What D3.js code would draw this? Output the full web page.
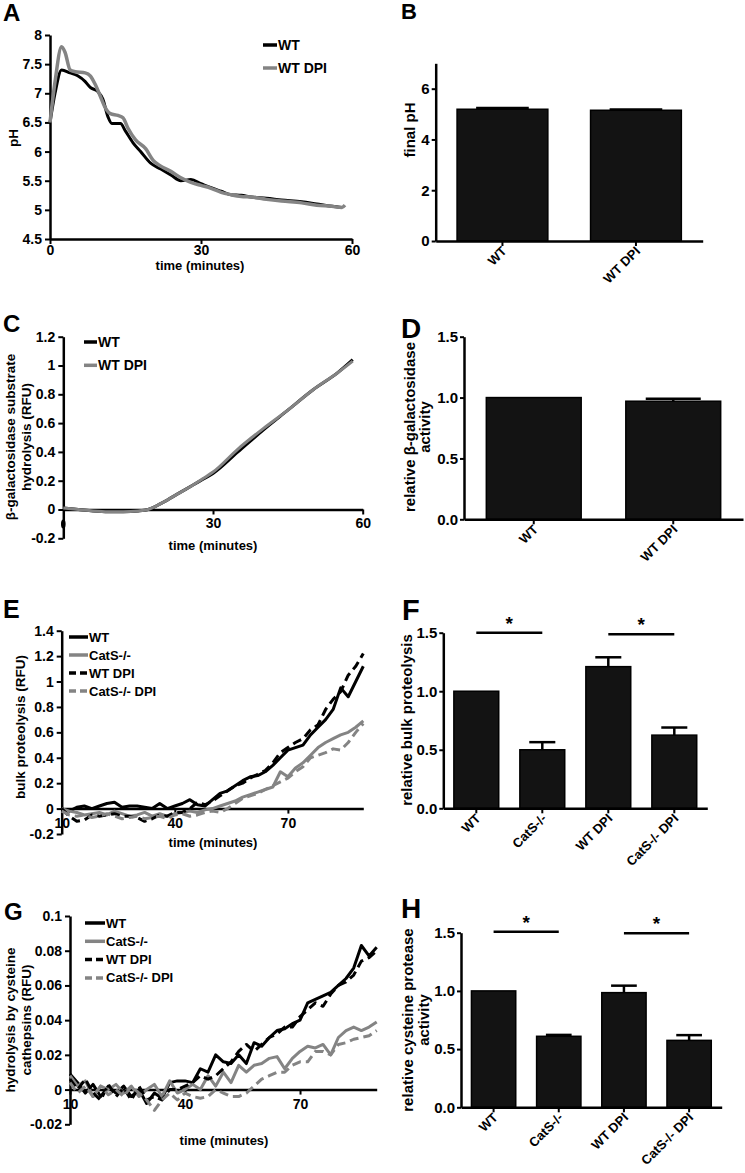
<!DOCTYPE html>
<html>
<head>
<meta charset="utf-8">
<script src="https://cdn.jsdelivr.net/npm/d3@7"></script>
<style>
body { margin: 0; background: #fff; }
svg text { font-family: Arial, "Liberation Sans", sans-serif; font-weight: bold; fill: #000; }
</style>
</head>
<body>
<svg id="fig" width="745" height="1173"></svg>
<script>
// ---- panel A: pH over time
var phTimeWT = [0, 1, 2.3, 4, 5.5, 7, 8, 9.5, 10.5, 11.5, 12.3, 14, 15, 16.5, 18, 20, 22, 24, 26, 28, 30, 32, 34, 36, 38, 40, 43, 46, 50, 53, 56, 58];
var phWT = [6.5, 7.0, 7.4, 7.35, 7.3, 7.2, 7.1, 7.03, 6.9, 6.6, 6.48, 6.48, 6.35, 6.15, 6.0, 5.8, 5.7, 5.6, 5.5, 5.52, 5.45, 5.38, 5.32, 5.26, 5.25, 5.22, 5.2, 5.17, 5.14, 5.1, 5.06, 5.04];
var phTimeDPI = [0, 1, 2.3, 3, 4, 5, 7, 8, 9, 10, 11, 12, 13.5, 14.5, 15.5, 17, 19, 20.5, 22, 24, 26, 28, 30, 32, 34, 36, 38, 40, 43, 46, 50, 53, 56, 58, 58.6];
var phDPI = [6.5, 7.2, 7.8, 7.7, 7.4, 7.37, 7.35, 7.3, 7.15, 6.95, 6.75, 6.65, 6.62, 6.58, 6.4, 6.2, 6.05, 5.85, 5.75, 5.66, 5.55, 5.47, 5.42, 5.37, 5.3, 5.26, 5.23, 5.22, 5.18, 5.15, 5.12, 5.08, 5.06, 5.04, 5.08];

// ---- panel B: final pH
var groupsAB = ['WT', 'WT DPI'];
var finalPH = [5.19, 5.15];
var finalPHErr = [0.05, 0.03];

// ---- panel C: beta-galactosidase hydrolysis
var galTime = [0, 3, 6, 9, 12, 15, 17, 20, 23, 26, 28, 30, 35, 40, 45, 50, 55, 58];
var galWT = [0.01, 0.0, -0.01, -0.015, -0.015, -0.01, 0.0, 0.05, 0.11, 0.17, 0.21, 0.25, 0.40, 0.55, 0.69, 0.83, 0.95, 1.04];
var galDPI = [0.01, 0.0, -0.01, -0.015, -0.015, -0.01, 0.0, 0.05, 0.11, 0.17, 0.215, 0.26, 0.42, 0.56, 0.69, 0.83, 0.95, 1.03];

// ---- panel D: relative beta-galactosidase activity
var galRel = [1.0, 0.97];
var galRelErr = [0.0, 0.02];

// ---- panel E: bulk proteolysis
var bulkTime = [10, 12, 14, 16, 18, 20, 22, 24, 26, 28, 30, 32, 34, 36, 38, 40, 42, 44, 46, 48, 50, 52, 54, 56, 58, 60, 62, 64, 66, 68, 70, 72, 74, 76, 78, 80, 82, 84, 86, 88, 90];
var bulkWT = [0.0, -0.02, 0.01, 0.02, 0.0, 0.02, 0.04, 0.05, 0.01, 0.02, 0.02, 0.01, 0.0, 0.04, 0.0, 0.02, 0.04, 0.07, 0.03, 0.02, 0.07, 0.12, 0.14, 0.18, 0.22, 0.25, 0.26, 0.29, 0.34, 0.40, 0.46, 0.48, 0.50, 0.58, 0.64, 0.70, 0.78, 0.95, 0.88, 1.0, 1.12];
var bulkCatS = [0.0, -0.02, -0.03, -0.05, -0.04, -0.03, -0.05, -0.02, -0.04, -0.06, -0.05, -0.03, -0.06, -0.04, -0.06, -0.04, -0.03, -0.02, -0.03, -0.01, 0.0, 0.02, 0.04, 0.06, 0.09, 0.11, 0.13, 0.15, 0.17, 0.29, 0.25, 0.32, 0.36, 0.42, 0.48, 0.52, 0.55, 0.58, 0.60, 0.64, 0.69];
var bulkWTDPI = [0.0, -0.06, -0.1, -0.09, -0.05, -0.06, -0.05, -0.04, -0.06, -0.06, -0.07, -0.1, -0.08, -0.05, -0.06, -0.03, -0.03, 0.0, 0.05, 0.03, 0.06, 0.1, 0.14, 0.18, 0.2, 0.24, 0.27, 0.3, 0.36, 0.44, 0.48, 0.52, 0.55, 0.62, 0.66, 0.78, 0.86, 0.92, 1.05, 1.12, 1.22];
var bulkCatSDPI = [-0.02, -0.05, -0.06, -0.05, -0.07, -0.06, -0.04, -0.06, -0.08, -0.07, -0.06, -0.08, -0.07, -0.06, -0.08, -0.05, -0.04, -0.06, -0.05, -0.03, -0.02, -0.03, 0.0, 0.04, 0.08, 0.1, 0.12, 0.15, 0.18, 0.21, 0.24, 0.29, 0.33, 0.4, 0.42, 0.44, 0.47, 0.46, 0.52, 0.6, 0.67];

// ---- panel F: relative bulk proteolysis
var groupsFH = ['WT', 'CatS-/-', 'WT DPI', 'CatS-/- DPI'];
var bulkRel = [1.0, 0.5, 1.21, 0.625];
var bulkRelErr = [0.0, 0.065, 0.08, 0.065];

// ---- panel G: hydrolysis by cysteine cathepsins
var cysTime = bulkTime;
var cysWT = [0.009, 0.004, -0.002, 0.003, -0.004, 0.002, -0.002, 0.002, -0.004, 0.0, -0.008, -0.002, -0.005, 0.004, 0.005, 0.005, 0.004, 0.012, 0.01, 0.02, 0.016, 0.015, 0.02, 0.015, 0.027, 0.025, 0.03, 0.034, 0.035, 0.038, 0.04, 0.05, 0.052, 0.054, 0.056, 0.06, 0.064, 0.07, 0.083, 0.077, 0.082];
var cysCatS = [0.008, 0.002, 0.005, -0.004, 0.002, 0.0, 0.003, -0.002, 0.002, -0.004, 0.0, 0.003, -0.004, 0.005, -0.002, 0.0, 0.003, 0.0, 0.008, 0.002, 0.01, 0.004, 0.014, 0.01, 0.014, 0.015, 0.018, 0.019, 0.012, 0.018, 0.022, 0.025, 0.024, 0.026, 0.02, 0.03, 0.034, 0.036, 0.034, 0.036, 0.039];
var cysWTDPI = [0.006, 0.0, 0.006, -0.002, -0.006, 0.003, -0.004, 0.001, -0.006, 0.002, -0.006, -0.004, -0.006, 0.0, 0.0, 0.002, 0.004, 0.008, 0.006, 0.008, 0.012, 0.016, 0.022, 0.026, 0.022, 0.026, 0.03, 0.032, 0.036, 0.036, 0.042, 0.046, 0.05, 0.048, 0.055, 0.06, 0.062, 0.066, 0.074, 0.076, 0.08];
var cysCatSDPI = [0.004, -0.002, 0.002, -0.004, 0.002, -0.003, 0.0, -0.004, 0.002, -0.002, -0.006, -0.012, -0.006, -0.002, -0.006, -0.002, -0.004, -0.005, -0.004, 0.0, -0.002, -0.004, -0.004, -0.002, 0.002, 0.006, 0.008, 0.01, 0.01, 0.014, 0.016, 0.016, 0.022, 0.022, 0.02, 0.026, 0.027, 0.029, 0.03, 0.031, 0.034];

// ---- panel H: relative cysteine protease activity
var cysRel = [1.0, 0.61, 0.985, 0.575];
var cysRelErr = [0.0, 0.012, 0.06, 0.045];

var BLACK = '#000', GREY = '#848484';
var svg = d3.select('#fig');

function fmt(d) { return String(+d.toFixed(3)); }

function styleAxis(sel, fs) {
  sel.select('.domain').attr('stroke', '#000').attr('stroke-width', 2.5);
  sel.selectAll('.tick line').attr('stroke', '#000').attr('stroke-width', 2);
  sel.selectAll('.tick text').attr('font-size', fs).attr('fill', '#000').attr('font-family', 'Arial, "Liberation Sans", sans-serif').attr('font-weight', 'bold');
}

function linePanel(o) {
  var x = d3.scaleLinear().domain(o.xDomain).range([o.x0, o.x1]);
  var y = d3.scaleLinear().domain(o.yDomain).range([o.yBottom, o.yTop]);
  var g = svg.append('g');

  var ya = g.append('g').attr('transform', 'translate(' + o.x0 + ',0)')
    .call(d3.axisLeft(y).tickValues(o.yTicks).tickSize(5).tickSizeOuter(0).tickPadding(3).tickFormat(fmt));
  styleAxis(ya, 14);

  var xa = g.append('g').attr('transform', 'translate(0,' + y(o.xAxisAt) + ')')
    .call(d3.axisBottom(x).tickValues(o.xTicks).tickSize(5).tickSizeOuter(0).tickPadding(4).tickFormat(fmt));
  styleAxis(xa, 14);
  if (o.labelDrop) xa.selectAll('.tick text').attr('dy', o.labelDrop);

  // x axis title
  g.append('text').attr('x', o.titleX).attr('y', o.titleY).attr('text-anchor', 'middle')
    .attr('font-size', 13).text('time (minutes)');

  // y axis title (one or two lines)
  o.yLabel.forEach(function(t, i) {
    g.append('text')
      .attr('transform', 'translate(' + o.yLabelX[i] + ',' + o.yLabelY + ') rotate(-90)')
      .attr('text-anchor', 'middle').attr('dy', '0.35em')
      .attr('font-size', 13.5).text(t);
  });

  var line = d3.line()
    .x(function(d) { return x(d[0]); })
    .y(function(d) { return y(d[1]); })
    .curve(o.curve || d3.curveLinear);

  o.series.forEach(function(s) {
    var pts = s.t.map(function(t, i) { return [t, s.v[i]]; });
    g.append('path').datum(pts).attr('d', line)
      .attr('fill', 'none').attr('stroke', s.color).attr('stroke-width', s.width || 3)
      .attr('stroke-linejoin', 'round')
      .attr('stroke-dasharray', s.dash ? '9,5' : null);
  });

  // legend
  o.series.forEach(function(s, i) {
    var ly = o.legendY + i * o.legendStep;
    g.append('line').attr('x1', o.legendX).attr('x2', o.legendX + o.legendLen)
      .attr('y1', ly).attr('y2', ly).attr('stroke', s.color).attr('stroke-width', 3.5)
      .attr('stroke-dasharray', s.dash ? '7,4' : null);
    g.append('text').attr('x', o.legendX + o.legendLen + 1).attr('y', ly).attr('dy', '0.35em')
      .attr('font-size', o.legendFont).text(s.name);
  });
  return { g: g, x: x, y: y };
}

function barPanel(o) {
  var x = d3.scaleBand().domain(o.cats).range([o.x0, o.x1]).paddingInner(0.32).paddingOuter(0.16);
  var y = d3.scaleLinear().domain(o.yDomain).range([o.yBottom, o.yTop]);
  var g = svg.append('g');
  var bw = x.bandwidth();

  g.selectAll('rect.bar').data(o.cats).enter().append('rect')
    .attr('x', function(d) { return x(d); })
    .attr('y', function(d, i) { return y(o.values[i]); })
    .attr('width', bw)
    .attr('height', function(d, i) { return y(0) - y(o.values[i]); })
    .attr('fill', '#131313').attr('stroke', '#000').attr('stroke-width', 1.5);

  o.cats.forEach(function(c, i) {
    if (!o.errs[i]) return;
    var cx = x(c) + bw / 2, cap = bw * 0.29;
    g.append('line').attr('x1', cx).attr('x2', cx)
      .attr('y1', y(o.values[i])).attr('y2', y(o.values[i] + o.errs[i]))
      .attr('stroke', '#000').attr('stroke-width', 2.5);
    g.append('line').attr('x1', cx - cap).attr('x2', cx + cap)
      .attr('y1', y(o.values[i] + o.errs[i])).attr('y2', y(o.values[i] + o.errs[i]))
      .attr('stroke', '#000').attr('stroke-width', 2.5);
  });

  var ya = g.append('g').attr('transform', 'translate(' + o.x0 + ',0)')
    .call(d3.axisLeft(y).tickValues(o.yTicks).tickSize(4).tickSizeOuter(0).tickPadding(2).tickFormat(o.yFormat));
  styleAxis(ya, 15);

  var xa = g.append('g').attr('transform', 'translate(0,' + y(0) + ')')
    .call(d3.axisBottom(x).tickSize(5).tickSizeOuter(0).tickFormat(''));
  styleAxis(xa, 13);

  o.cats.forEach(function(c) {
    var cx = x(c) + bw / 2;
    g.append('text')
      .attr('transform', 'translate(' + (cx + 5) + ',' + (y(0) + 11) + ') rotate(-45)')
      .attr('text-anchor', 'end').attr('font-size', 13).text(c);
  });

  o.yLabel.forEach(function(t, i) {
    g.append('text')
      .attr('transform', 'translate(' + o.yLabelX[i] + ',' + o.yLabelY + ') rotate(-90)')
      .attr('text-anchor', 'middle').attr('dy', '0.35em')
      .attr('font-size', 15).text(t);
  });

  // significance brackets
  (o.sig || []).forEach(function(p) {
    var xa1 = x(o.cats[p[0]]) + bw / 2, xa2 = x(o.cats[p[1]]) + bw / 2;
    var ly = y(o.yDomain[1]) + p[2];
    g.append('line').attr('x1', xa1).attr('x2', xa2).attr('y1', ly).attr('y2', ly)
      .attr('stroke', '#000').attr('stroke-width', 2.5);
    g.append('text').attr('x', (xa1 + xa2) / 2).attr('y', ly - 3).attr('text-anchor', 'middle')
      .attr('font-size', 19).text('*');
  });
  return g;
}

function panelLetter(t, x, y, fs) {
  svg.append('text').attr('x', x).attr('y', y).attr('font-size', fs).text(t);
}

// ---------- A
linePanel({
  xDomain: [0, 60], yDomain: [4.5, 8], x0: 50, x1: 352, yBottom: 239, yTop: 35,
  xTicks: [0, 30, 60], yTicks: d3.range(4.5, 8.01, 0.5), xAxisAt: 4.5, labelDrop: '0.5em',
  titleX: 200, titleY: 270, yLabel: ['pH'], yLabelX: [13], yLabelY: 138,
  curve: d3.curveMonotoneX,
  series: [
    { name: 'WT', t: phTimeWT, v: phWT, color: BLACK, width: 3 },
    { name: 'WT DPI', t: phTimeDPI, v: phDPI, color: GREY, width: 3.5 }
  ],
  legendX: 263, legendLen: 14, legendY: 45, legendStep: 23, legendFont: 14
});

// ---------- B
barPanel({
  cats: groupsAB, values: finalPH, errs: finalPHErr,
  x0: 435.7, x1: 702.7, yDomain: [0, 7], yBottom: 241, yTop: 63.3,
  yTicks: [0, 2, 4, 6], yFormat: d3.format('d'),
  yLabel: ['final pH'], yLabelX: [410], yLabelY: 130
});

// ---------- C
var pc = linePanel({
  xDomain: [0, 60], yDomain: [-0.2, 1.2], x0: 63.3, x1: 362.7, yBottom: 538.3, yTop: 336.7,
  xTicks: [30, 60], yTicks: d3.range(-0.2, 1.21, 0.2).map(function(d) { return +d.toFixed(1); }), xAxisAt: 0,
  titleX: 213, titleY: 550, yLabel: ['\u03b2-galactosidase substrate', 'hydrolysis (RFU)'], yLabelX: [10, 26], yLabelY: 437,
  curve: d3.curveMonotoneX,
  series: [
    { name: 'WT', t: galTime, v: galWT, color: BLACK, width: 3 },
    { name: 'WT DPI', t: galTime, v: galDPI, color: GREY, width: 3 }
  ],
  legendX: 84, legendLen: 13, legendY: 342, legendStep: 23.3, legendFont: 14
});
pc.g.append('ellipse').attr('cx', pc.x(0)).attr('cy', pc.y(-0.1)).attr('rx', 2.3).attr('ry', 4.5).attr('fill', '#000');

// ---------- D
barPanel({
  cats: groupsAB, values: galRel, errs: galRelErr,
  x0: 464, x1: 743, yDomain: [0, 1.5], yBottom: 519.3, yTop: 336.7,
  yTicks: [0, 0.5, 1, 1.5], yFormat: d3.format('.1f'),
  yLabel: ['relative \u03b2-galactosidase', 'activity'], yLabelX: [410, 425], yLabelY: 427
});

// ---------- E
linePanel({
  xDomain: [10, 90], yDomain: [-0.2, 1.4], x0: 61.7, x1: 363.3, yBottom: 834, yTop: 630.7,
  xTicks: [10, 40, 70], yTicks: d3.range(-0.2, 1.41, 0.2).map(function(d) { return +d.toFixed(1); }), xAxisAt: 0,
  titleX: 213, titleY: 847, yLabel: ['bulk proteolysis (RFU)'], yLabelX: [20], yLabelY: 727,
  series: [
    { name: 'WT', t: bulkTime, v: bulkWT, color: BLACK, width: 3 },
    { name: 'CatS-/-', t: bulkTime, v: bulkCatS, color: GREY, width: 3 },
    { name: 'WT DPI', t: bulkTime, v: bulkWTDPI, color: BLACK, width: 3, dash: true },
    { name: 'CatS-/- DPI', t: bulkTime, v: bulkCatSDPI, color: GREY, width: 3, dash: true }
  ],
  legendX: 69, legendLen: 19, legendY: 637, legendStep: 18, legendFont: 13
});

// ---------- F
barPanel({
  cats: groupsFH, values: bulkRel, errs: bulkRelErr,
  x0: 443.3, x1: 707.3, yDomain: [0, 1.5], yBottom: 808.3, yTop: 632.7,
  yTicks: [0, 0.5, 1, 1.5], yFormat: d3.format('.1f'),
  yLabel: ['relative bulk proteolysis'], yLabelX: [407], yLabelY: 720,
  sig: [[0, 1, 0], [2, 3, 1.5]]
});

// ---------- G
linePanel({
  xDomain: [10, 90], yDomain: [-0.02, 0.1], x0: 70, x1: 376.7, yBottom: 1124.3, yTop: 916,
  xTicks: [10, 40, 70], yTicks: [-0.02, 0, 0.02, 0.04, 0.06, 0.08, 0.1], xAxisAt: 0,
  titleX: 224, titleY: 1145, yLabel: ['hydrolysis by cysteine', 'cathepsins (RFU)'], yLabelX: [10, 26], yLabelY: 1020,
  series: [
    { name: 'WT', t: cysTime, v: cysWT, color: BLACK, width: 3 },
    { name: 'CatS-/-', t: cysTime, v: cysCatS, color: GREY, width: 3 },
    { name: 'WT DPI', t: cysTime, v: cysWTDPI, color: BLACK, width: 3, dash: true },
    { name: 'CatS-/- DPI', t: cysTime, v: cysCatSDPI, color: GREY, width: 3, dash: true }
  ],
  legendX: 85, legendLen: 20, legendY: 923, legendStep: 18.3, legendFont: 13
});

// ---------- H
barPanel({
  cats: groupsFH, values: cysRel, errs: cysRelErr,
  x0: 461, x1: 721.7, yDomain: [0, 1.5], yBottom: 1107.3, yTop: 932.7,
  yTicks: [0, 0.5, 1, 1.5], yFormat: d3.format('.1f'),
  yLabel: ['relative cysteine protease', 'activity'], yLabelX: [408, 424], yLabelY: 1020,
  sig: [[0, 1, -1], [2, 3, 0.5]]
});

// panel letters
panelLetter('A', 3, 21, 24);
panelLetter('B', 401, 19, 22);
panelLetter('C', 3, 332, 24);
panelLetter('D', 401, 338, 28);
panelLetter('E', 3, 618, 25);
panelLetter('F', 402, 620, 29);
panelLetter('G', 4, 920, 24);
panelLetter('H', 401, 918, 28);
</script>
</body>
</html>
